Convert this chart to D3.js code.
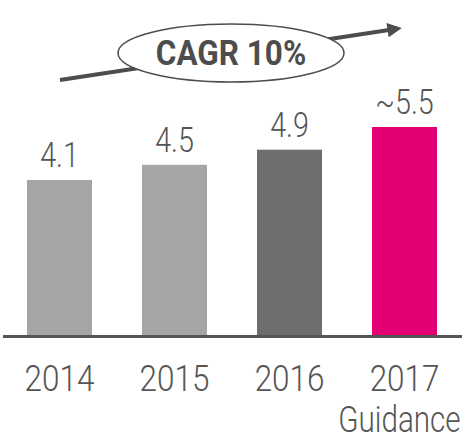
<!DOCTYPE html>
<html>
<head>
<meta charset="utf-8">
<script src="https://cdn.jsdelivr.net/npm/d3@7"></script>
<style>
  html, body { margin: 0; padding: 0; background: #fff; }
  text { font-family: Roboto, "Noto Sans", sans-serif; }
</style>
</head>
<body>
<div id="chart"></div>
<script>
// Data
const years = ["2014", "2015", "2016", "2017"];
const values = [4.1, 4.5, 4.9, 5.5];
const valueLabels = ["4.1", "4.5", "4.9", "~5.5"];
const subLabels = ["", "", "", "Guidance"];
const cagrLabel = "CAGR 10%";

const width = 468;
const height = 436;
const baseline = 335;

const svg = d3.select("#chart")
  .append("svg")
  .attr("width", width)
  .attr("height", height);

const x = d3.scaleBand()
  .domain(years)
  .range([27, 437])
  .paddingInner(0.435)
  .paddingOuter(0);

const y = d3.scaleLinear()
  .domain([0, 5.5])
  .range([baseline, 127]);

const color = d3.scaleOrdinal()
  .domain(years)
  .range(["#a5a5a5", "#a5a5a5", "#6e6e6e", "#e20074"]);

const textColor = "#555555";
const squeeze = 0.82; // narrow letterforms like the original font

// Bars
svg.selectAll("rect.bar")
  .data(years)
  .join("rect")
  .attr("class", "bar")
  .attr("x", (d) => x(d))
  .attr("y", (d, i) => y(values[i]))
  .attr("width", x.bandwidth())
  .attr("height", (d, i) => y(0) - y(values[i]))
  .style("fill", (d) => color(d));

// Value labels
svg.selectAll("text.value")
  .data(years)
  .join("text")
  .attr("class", "value")
  .attr("text-anchor", "middle")
  .attr("transform", (d, i) =>
    `translate(${x(d) + x.bandwidth() / 2},${y(values[i]) - 13}) scale(${squeeze},1)`)
  .style("font-size", "35px")
  .style("font-weight", 300)
  .style("fill", textColor)
  .text((d, i) => valueLabels[i]);

// Baseline axis
svg.append("line")
  .attr("x1", 3)
  .attr("x2", 462)
  .attr("y1", baseline + 1.5)
  .attr("y2", baseline + 1.5)
  .style("stroke", "#555555")
  .style("stroke-width", 3);

// Year labels
svg.selectAll("text.year")
  .data(years)
  .join("text")
  .attr("class", "year")
  .attr("text-anchor", "middle")
  .attr("transform", (d) =>
    `translate(${x(d) + x.bandwidth() / 2},391) scale(0.85,1)`)
  .style("font-size", "37px")
  .style("font-weight", 300)
  .style("fill", textColor)
  .text((d) => d);

svg.selectAll("text.sub")
  .data(years.filter((d, i) => subLabels[i]))
  .join("text")
  .attr("class", "sub")
  .attr("text-anchor", "middle")
  .attr("transform", (d) =>
    `translate(${x(d) + x.bandwidth() / 2 - 5},432) scale(0.8,1)`)
  .style("font-size", "37px")
  .style("font-weight", 300)
  .style("fill", textColor)
  .text((d) => subLabels[years.indexOf(d)]);

// Growth arrow
svg.append("defs")
  .append("marker")
  .attr("id", "arrowhead")
  .attr("viewBox", "0 0 10 10")
  .attr("refX", 1)
  .attr("refY", 5)
  .attr("markerWidth", 4)
  .attr("markerHeight", 3.6)
  .attr("orient", "auto")
  .append("path")
  .attr("d", "M0,0 L10,5 L0,10 Z")
  .style("fill", "#4d4d4d");

svg.append("line")
  .attr("x1", 60)
  .attr("y1", 80)
  .attr("x2", 389)
  .attr("y2", 30)
  .style("stroke", "#4d4d4d")
  .style("stroke-width", 4)
  .attr("marker-end", "url(#arrowhead)");

// CAGR bubble
svg.append("ellipse")
  .attr("cx", 231)
  .attr("cy", 53)
  .attr("rx", 113)
  .attr("ry", 29)
  .style("fill", "#ffffff")
  .style("stroke", "#4d4d4d")
  .style("stroke-width", 1.5);

svg.append("text")
  .attr("text-anchor", "middle")
  .attr("transform", `translate(231,65) scale(0.9,1)`)
  .style("font-size", "35px")
  .style("font-weight", 700)
  .style("fill", "#4d4d4d")
  .text(cagrLabel);
</script>
</body>
</html>
